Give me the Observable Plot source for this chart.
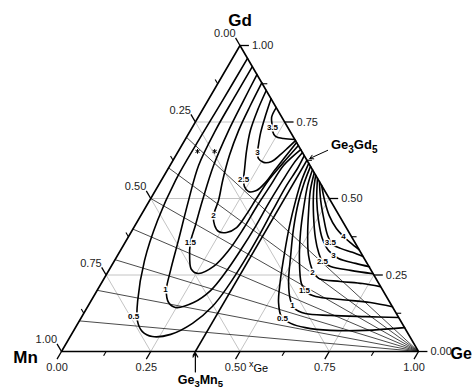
<!DOCTYPE html>
<html><head><meta charset="utf-8">
<script src="https://cdn.jsdelivr.net/npm/d3@7"></script>
<script src="https://cdn.jsdelivr.net/npm/@observablehq/plot@0.6"></script>
<style>body{margin:0;background:#fff}</style>
</head><body><div id="chart"></div>
<script>
// ---- data (compositions as [xGe, xGd]) ----
const gridValues = [0.25, 0.5, 0.75];
const majorTicks = [0, 0.25, 0.5, 0.75, 1];
const minorTicks = [0.125, 0.375, 0.625, 0.875];
const tickLabels = ["0.00", "0.25", "0.50", "0.75", "1.00"];
const fanMn = [0.3, 0.4, 0.5, 0.6, 0.7, 0.8, 0.9];
const ge3mn5 = [0.375, 0];
const ge3gd5 = [0.375, 0.625];
const leftLevels = ["0.5", "1", "1.5", "2", "2.5", "3", "3.5"];
const rightLevels = ["0.5", "1", "1.5", "2", "2.5", "3", "3.5", "4"];

const left05 = [[.042,.958],[.041,.820],[.039,.690],[.040,.559],[.055,.428],[.084,.297],[.130,.167],[.162,.101],[.194,.065],[.230,.049],[.278,.056],[.321,.092],[.349,.147],[.360,.216],[.364,.291],[.364,.376],[.361,.461],[.359,.543],[.362,.598],[.360,.640]];
const left1 = [[.069,.931],[.069,.837],[.070,.722],[.080,.608],[.109,.494],[.146,.363],[.173,.265],[.194,.199],[.220,.160],[.247,.144],[.290,.160],[.318,.199],[.330,.258],[.336,.330],[.339,.409],[.338,.484],[.340,.559],[.343,.614],[.350,.650]];
const left15 = [[.095,.905],[.100,.820],[.107,.722],[.122,.608],[.148,.494],[.169,.412],[.183,.356],[.207,.304],[.230,.268],[.256,.255],[.287,.278],[.303,.330],[.309,.402],[.310,.477],[.314,.543],[.318,.608],[.340,.660]];
const left2 = [[.122,.878],[.127,.804],[.135,.722],[.150,.641],[.172,.559],[.193,.494],[.204,.444],[.223,.412],[.244,.392],[.268,.389],[.288,.405],[.294,.448],[.296,.500],[.300,.559],[.312,.614],[.327,.673]];
const left25 = [[.147,.853],[.155,.788],[.168,.722],[.190,.657],[.214,.598],[.229,.562],[.243,.539],[.262,.523],[.283,.526],[.295,.552],[.301,.592],[.308,.634],[.317,.683]];
const left3 = [[.174,.826],[.186,.771],[.200,.716],[.215,.673],[.224,.650],[.236,.631],[.257,.618],[.278,.621],[.292,.644],[.302,.667],[.311,.689]];
const left35 = [[.203,.797],[.206,.765],[.225,.732],[.232,.719],[.248,.703],[.274,.696],[.307,.693]];

const right05 = [[.385,.615],[.393,.559],[.409,.494],[.433,.412],[.463,.324],[.497,.232],[.528,.160],[.559,.114],[.596,.092],[.644,.078],[.719,.069],[.817,.069],[.922,.078]];
const right1 = [[.395,.605],[.404,.552],[.420,.487],[.449,.402],[.485,.314],[.523,.226],[.558,.167],[.582,.141],[.621,.124],[.695,.118],[.794,.114],[.888,.111]];
const right15 = [[.406,.594],[.418,.543],[.443,.471],[.475,.389],[.518,.297],[.561,.222],[.590,.193],[.622,.180],[.697,.170],[.785,.160],[.854,.146]];
const right2 = [[.416,.584],[.434,.526],[.465,.454],[.500,.379],[.535,.314],[.571,.265],[.601,.239],[.667,.229],[.732,.222],[.787,.212]];
const right25 = [[.424,.576],[.446,.520],[.484,.444],[.527,.369],[.558,.324],[.584,.294],[.615,.278],[.677,.265],[.746,.254]];
const right3 = [[.434,.566],[.468,.494],[.506,.428],[.546,.369],[.583,.330],[.624,.304],[.680,.288],[.724,.277]];
const right35 = [[.445,.555],[.479,.494],[.517,.435],[.556,.379],[.584,.350],[.613,.337],[.653,.324],[.688,.311]];
const right4 = [[.457,.543],[.490,.494],[.528,.444],[.569,.402],[.602,.376],[.631,.356],[.667,.333]];

const leftLabelPos = [[.145,.114],[.190,.203],[.183,.356],[.204,.444],[.229,.562],[.224,.650],[.225,.732]];
const rightLabelPos = [[.565,.108],[.572,.150],[.581,.199],[.574,.258],[.584,.294],[.605,.314],[.575,.356],[.602,.376]];
const stars = [[.054,.654],[.102,.654]];

// ---- ternary -> cartesian ----
const S3 = Math.sqrt(3) / 2;
const V = p => ({x: p[0] + p[1] / 2, y: p[1] * S3});
const seg = (a, b) => { const A = V(a), B = V(b); return {x1: A.x, y1: A.y, x2: B.x, y2: B.y}; };

const gridRows = gridValues.flatMap(v => [seg([1 - v, v], [0, v]), seg([v, 0], [v, 1 - v]), seg([1 - v, 0], [0, 1 - v])]);
const tickRows = (vals, L) => vals.flatMap(v => [seg([0, 1 - v], [-L, 1 - v + L]), seg([1 - v, v], [1 - v + L, v]), seg([v, 0], [v, -L])]);
const LT = 0.025;
const leftTickLab = majorTicks.map((v, i) => ({...V([-LT, 1 - v + LT]), text: tickLabels[i]}));
const rightTickLab = majorTicks.map((v, i) => ({...V([1 - v + LT, v]), text: tickLabels[i]}));
const bottomTickLab = majorTicks.map((v, i) => ({...V([v, -LT]), text: tickLabels[i]}));
const fanRows = fanMn.map(m => seg([1, 0], [0, 1 - m]));
const contourRows = [
  ...[left05, left1, left15, left2, left25, left3, left35].flatMap((pts, i) => pts.map(p => ({...V(p), id: "L" + i}))),
  ...[right05, right1, right15, right2, right25, right3, right35, right4].flatMap((pts, i) => pts.map(p => ({...V(p), id: "R" + i})))
];
const contourLabels = [
  ...leftLabelPos.map((p, i) => ({...V(p), text: leftLevels[i]})),
  ...rightLabelPos.map((p, i) => ({...V(p), text: rightLevels[i]}))
];
const outline = [[0, 0], [1, 0], [0, 1], [0, 0]].map(V);
const pMn = V(ge3mn5), pGd = V(ge3gd5);

const font = "Liberation Sans, Arial, Helvetica, sans-serif";
const chart = Plot.plot({
  width: 473, height: 389, margin: 0,
  style: {background: "white", fontFamily: font, overflow: "visible"},
  x: {domain: [0, 1], range: [61, 418], axis: null},
  y: {domain: [0, S3], range: [351, 45], axis: null},
  marks: [
    Plot.link(gridRows, {x1: "x1", y1: "y1", x2: "x2", y2: "y2", stroke: "#c4c4c4", strokeWidth: 1}),
    Plot.link(fanRows, {x1: "x1", y1: "y1", x2: "x2", y2: "y2", stroke: "#2a2a2a", strokeWidth: 0.85}),
    Plot.line(contourRows, {x: "x", y: "y", z: "id", curve: "catmull-rom", stroke: "#000", strokeWidth: 1.6}),
    Plot.link([seg(ge3mn5, ge3gd5)], {x1: "x1", y1: "y1", x2: "x2", y2: "y2", stroke: "#000", strokeWidth: 1.5}),
    Plot.line(outline, {x: "x", y: "y", stroke: "#000", strokeWidth: 1.6}),
    Plot.link(tickRows(majorTicks, LT), {x1: "x1", y1: "y1", x2: "x2", y2: "y2", stroke: "#000", strokeWidth: 1.3}),
    Plot.link(tickRows(minorTicks, 0.014), {x1: "x1", y1: "y1", x2: "x2", y2: "y2", stroke: "#000", strokeWidth: 1.1}),
    Plot.text(contourLabels, {x: "x", y: "y", text: "text", fontSize: 8, fontWeight: "bold", fill: "#000", stroke: "white", strokeWidth: 3}),
    Plot.dot(stars.map(V), {x: "x", y: "y", symbol: "asterisk", r: 2.2, stroke: "#000", strokeWidth: 1}),
    Plot.text(leftTickLab, {x: "x", y: "y", text: "text", textAnchor: "end", dy: -4, fontSize: 11, fill: "#222"}),
    Plot.text(rightTickLab, {x: "x", y: "y", text: "text", textAnchor: "start", dx: 3, fontSize: 11, fill: "#222"}),
    Plot.text(bottomTickLab, {x: "x", y: "y", text: "text", dy: 8, fontSize: 11, fill: "#222"}),
    Plot.text([V([0, 1])], {x: "x", y: "y", text: () => "Gd", dy: -25, fontSize: 17, fontWeight: "bold"}),
    Plot.text([V([0, 0])], {x: "x", y: "y", text: () => "Mn", dx: -36, dy: 6, fontSize: 17, fontWeight: "bold"}),
    Plot.text([V([1, 0])], {x: "x", y: "y", text: () => "Ge", textAnchor: "start", dx: 32, dy: 2, fontSize: 16, fontWeight: "bold"}),
    Plot.text([V([0.5, 0])], {x: "x", y: "y", text: () => "xGe", textAnchor: "start", dx: 9, dy: 13, fontSize: 9}),
    Plot.arrow([0], {x1: pMn.x, y1: -0.058, x2: pMn.x, y2: -0.004, headLength: 6, strokeWidth: 1.2, stroke: "#000"}),
    Plot.text([pMn], {x: "x", y: "y", text: () => "Ge3Mn5", dx: 5, dy: 28, fontSize: 12.5, fontWeight: "bold"}),
    Plot.arrow([0], {x1: pGd.x + 0.058, y1: pGd.y + 0.028, x2: pGd.x + 0.008, y2: pGd.y + 0.005, headLength: 6, strokeWidth: 1, stroke: "#000"}),
    Plot.text([pGd], {x: "x", y: "y", text: () => "Ge3Gd5", textAnchor: "start", dx: 24, dy: -15, fontSize: 13, fontWeight: "bold"})
  ]
});
document.getElementById("chart").appendChild(chart);

// subscripts as real text
function subscriptify(raw, parts, subSize, shift) {
  d3.select(chart).selectAll("text").filter(function () { return this.textContent === raw && this.childElementCount === 0; }).each(function () {
    const t = d3.select(this); t.text(null);
    let prevSub = false;
    parts.forEach(([s, sub]) => {
      const sp = t.append("tspan").text(s);
      if (sub && !prevSub) sp.attr("dy", shift).attr("font-size", subSize);
      else if (!sub && prevSub) sp.attr("dy", -shift);
      else if (sub) sp.attr("font-size", subSize);
      prevSub = sub;
    });
  });
}
subscriptify("Ge3Mn5", [["Ge", 0], ["3", 1], ["Mn", 0], ["5", 1]], 9.5, 3);
subscriptify("Ge3Gd5", [["Ge", 0], ["3", 1], ["Gd", 0], ["5", 1]], 10, 4);
subscriptify("xGe", [["x", 0], ["Ge", 1]], 11, 5);
</script>
</body></html>
